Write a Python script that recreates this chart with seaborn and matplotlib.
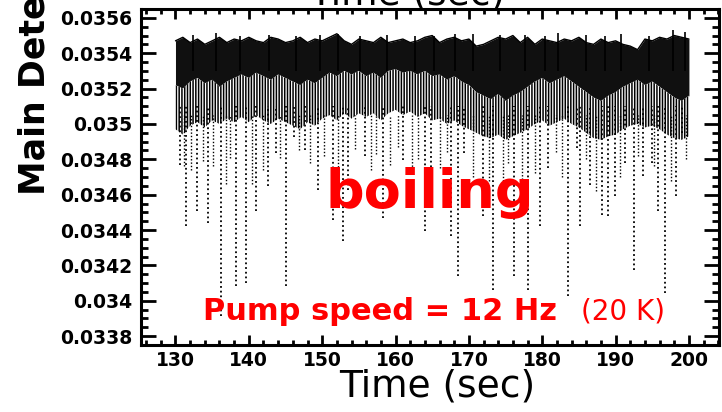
import numpy as np
import seaborn as sns
import matplotlib
matplotlib.use("Agg")
from matplotlib import pyplot as plt
from matplotlib.ticker import MultipleLocator, FuncFormatter

# detector trace, 1 s bins from 130 to 200 s
t_band = np.arange(130, 201)

# top edge of the trace
band_top = [0.03547, 0.03549, 0.03546, 0.03548, 0.03545, 0.03547, 0.03549, 0.03546, 0.03548, 0.03547,
            0.03549, 0.03547, 0.03546, 0.03549, 0.03548, 0.03546, 0.03547, 0.03549, 0.03546, 0.03548,
            0.03547, 0.03549, 0.03551, 0.03547, 0.03545, 0.03548, 0.03547, 0.03546, 0.03549, 0.03546,
            0.03547, 0.03548, 0.03546, 0.03547, 0.03549, 0.03550, 0.03546, 0.03548, 0.03549, 0.03547,
            0.03548, 0.03544, 0.03545, 0.03547, 0.03549, 0.03548, 0.03550, 0.03546, 0.03549, 0.03545,
            0.03548, 0.03547, 0.03546, 0.03548, 0.03547, 0.03549, 0.03546, 0.03545, 0.03548, 0.03546,
            0.03547, 0.03545, 0.03544, 0.03542, 0.03548, 0.03547, 0.03549, 0.03548, 0.03550, 0.03549,
            0.03548]

# lower edge of the dark core
band_mid = [0.03522, 0.03520, 0.03524, 0.03526,
            0.03523, 0.03525, 0.03521, 0.03524, 0.03526,
            0.03528, 0.03526, 0.03529, 0.03527, 0.03525, 0.03528, 0.03526,
            0.03524, 0.03522, 0.03525, 0.03523, 0.03526,
            0.03529, 0.03527, 0.03530, 0.03528, 0.03530, 0.03527, 0.03529, 0.03526,
            0.03530, 0.03531, 0.03529, 0.03530, 0.03528, 0.03530, 0.03527,
            0.03528, 0.03525, 0.03527, 0.03524, 0.03522,
            0.03518, 0.03516, 0.03514, 0.03517, 0.03513, 0.03516, 0.03518, 0.03521,
            0.03524, 0.03526, 0.03523, 0.03525, 0.03527, 0.03524, 0.03521,
            0.03518, 0.03515, 0.03513, 0.03516, 0.03518, 0.03521,
            0.03523, 0.03525, 0.03522, 0.03524, 0.03521,
            0.03518, 0.03515, 0.03513, 0.03516]

# lower edge of the speckled part
band_low = [0.03497, 0.03494, 0.03499, 0.03501,
            0.03498, 0.03502, 0.03500, 0.03503, 0.03501,
            0.03504, 0.03501, 0.03505, 0.03502, 0.03500, 0.03503, 0.03501,
            0.03499, 0.03497, 0.03501, 0.03499, 0.03503,
            0.03505, 0.03502, 0.03506, 0.03503, 0.03506, 0.03504, 0.03506, 0.03502,
            0.03506, 0.03508, 0.03505, 0.03507, 0.03504, 0.03506, 0.03502,
            0.03503, 0.03500, 0.03502, 0.03499, 0.03497,
            0.03495, 0.03493, 0.03492, 0.03494, 0.03491, 0.03493, 0.03495, 0.03497,
            0.03500, 0.03502, 0.03499, 0.03501, 0.03503, 0.03500, 0.03498,
            0.03495, 0.03492, 0.03491, 0.03493, 0.03494, 0.03497,
            0.03499, 0.03500, 0.03498, 0.03499, 0.03497,
            0.03494, 0.03492, 0.03491, 0.03493]

# deep downward spikes (bubbles): time and lowest value
dip_t = [130.6, 131.5, 133.0, 134.4, 136.2, 138.3, 139.6, 141.0, 142.6, 143.7,
         145.1, 146.2, 147.6, 149.4, 151.5, 152.8, 153.5, 155.8, 158.3, 161.0,
         164.0, 164.9, 167.6, 168.5, 169.4, 171.9, 173.3, 176.2, 178.1, 179.7,
         180.8, 183.5, 184.7, 185.1, 186.5, 188.1, 189.0, 189.9, 191.3, 192.5,
         193.8, 194.9, 195.8, 196.8, 198.3, 199.0]
dip_v = [0.034770, 0.034421, 0.034506, 0.034442, 0.033912, 0.034082, 0.034103, 0.034506, 0.034647, 0.034837,
         0.034082, 0.034929, 0.034854, 0.034628, 0.034459, 0.034336, 0.034628, 0.034816, 0.034470, 0.034798,
         0.034393, 0.034647, 0.034364, 0.034138, 0.034837, 0.034477, 0.034063, 0.034138, 0.034063, 0.034421,
         0.034752, 0.034025, 0.034865, 0.034421, 0.034656, 0.034487, 0.034477, 0.034590, 0.034779, 0.034176,
         0.034703, 0.034779, 0.034506, 0.034044, 0.034590, 0.034950]

# shallower downward spikes
small_t = [131.2, 132.1, 133.8, 135.1, 136.9, 137.5, 140.4, 141.9, 144.3, 146.9,
           148.3, 150.2, 152.2, 154.5, 156.7, 157.4, 159.2, 160.3, 162.2, 163.1,
           166.1, 167.0, 170.5, 172.7, 174.6, 175.4, 177.2, 179.0, 181.9, 182.7,
           186.0, 187.3, 190.6, 193.1, 195.3, 197.5, 199.6]
small_v = [0.03476, 0.03474, 0.03479, 0.03476, 0.03466, 0.03481, 0.03466, 0.03474, 0.03481, 0.03485,
           0.03478, 0.03482, 0.03470, 0.03486, 0.03474, 0.03483, 0.03477, 0.03487, 0.03472, 0.03480,
           0.03475, 0.03484, 0.03470, 0.03468, 0.03462, 0.03478, 0.03465, 0.03472, 0.03484, 0.03470,
           0.03480, 0.03462, 0.03470, 0.03482, 0.03476, 0.03468, 0.03480]

# upward peaks above the band
peak_t = [132.4, 135.5, 138.8, 142.8, 146.4, 149.7, 152.1, 155.2, 158.9, 162.6,
          165.3, 168.1, 170.6, 174.2, 177.6, 180.4, 182.2, 185.9, 188.6, 190.8,
          194.6, 197.8, 199.4]
peak_v = [0.035505, 0.035513, 0.035500, 0.035505, 0.035498, 0.035502, 0.035510, 0.035500, 0.035504, 0.035498,
          0.035500, 0.035506, 0.035510, 0.035502, 0.035505, 0.035500, 0.035515, 0.035503, 0.035498, 0.035508,
          0.035500, 0.035530, 0.035520]

sns.set_style("ticks")
plt.rcParams['font.family'] = ['DejaVu Sans']
plt.rcParams['hatch.linewidth'] = 1.1
for k in ['text.color', 'axes.labelcolor', 'xtick.color', 'ytick.color', 'axes.edgecolor']:
    plt.rcParams[k] = 'black'

fig = plt.figure(figsize=(7.22, 4.12), dpi=100)
ax = fig.add_axes([141 / 722, 1 - 345 / 412, 578 / 722, 336 / 412])

ax.fill_between(t_band, band_mid, band_top, color='#101010', lw=0)
ax.fill_between(t_band, band_low, band_mid, facecolor='white', edgecolor='black',
                hatch='||||||', lw=0)
sns.lineplot(x=t_band, y=band_top, color='black', lw=1, ax=ax)
ax.vlines(dip_t, dip_v, 0.03510, colors='black', linestyles=(0, (1, 1.6)), lw=1.3)
ax.vlines(small_t, small_v, 0.03505, colors='black', linestyles=(0, (1, 1.4)), lw=1.0)
ax.vlines(peak_t, 0.03530, peak_v, colors='black', lw=1.2)

ax.set_xlim(125.3, 204.1)
ax.set_ylim(0.03375, 0.03565)

ax.xaxis.set_major_locator(MultipleLocator(10))
ax.xaxis.set_minor_locator(MultipleLocator(2))
ax.yaxis.set_major_locator(MultipleLocator(0.0002))
ax.yaxis.set_minor_locator(MultipleLocator(0.00005))
ax.yaxis.set_major_formatter(FuncFormatter(lambda v, p: f"{v:.4f}".rstrip('0')))
ax.xaxis.set_major_formatter(FuncFormatter(lambda v, p: f"{v:.0f}"))

for s in ax.spines.values():
    s.set_linewidth(2.2)
    s.set_visible(True)
ax.tick_params(axis='both', which='both', direction='in', top=True, right=True, width=2, colors='black')
ax.tick_params(axis='y', which='major', length=11, pad=6)
ax.tick_params(axis='y', which='minor', length=5)
ax.tick_params(axis='x', which='major', length=7, pad=4)
ax.tick_params(axis='x', which='minor', length=3.6)
for lab in ax.get_xticklabels() + ax.get_yticklabels():
    lab.set_fontweight('bold')
    lab.set_fontsize(13.5)
ax.set_xlabel('')
ax.set_ylabel('')

# annotations
ax.text(164.6, 0.034523, 'boiling', color='#ff0000', fontsize=39, fontweight='bold',
        ha='center', va='baseline', zorder=5)
ax.text(133.7, 0.033894, 'Pump speed = 12 Hz', color='#ff0000', fontsize=22, fontweight='bold',
        ha='left', va='baseline', zorder=5)
ax.text(185.3, 0.033894, '(20 K)', color='#ff0000', fontsize=20,
        ha='left', va='baseline', zorder=5)

fig.text(437 / 722, 1 - 397 / 412, 'Time (sec)', fontsize=27, ha='center', va='baseline', color='black')
fig.text(407 / 722, 1 - 4 / 412, 'Time (sec)', fontsize=27, ha='center', va='baseline', color='black')
fig.text(35 / 722, 1 - 195 / 412, 'Main Detector (V)', fontsize=25, fontweight='bold',
         rotation=90, ha='center', va='bottom', color='black')

fig.savefig('out.png', dpi=100)
